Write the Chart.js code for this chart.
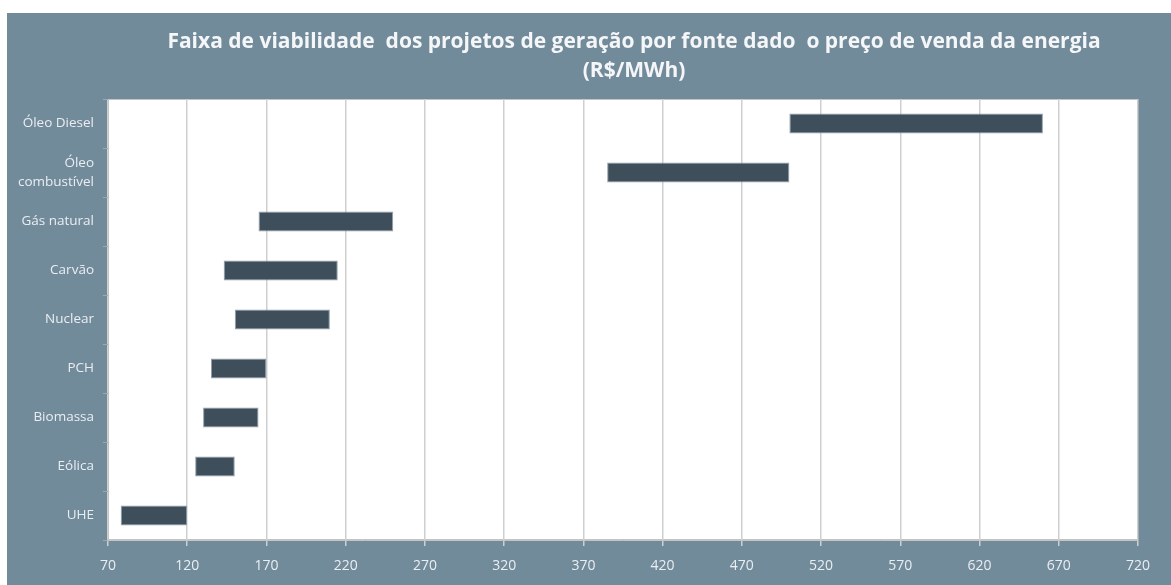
<!DOCTYPE html>
<html>
<head>
<meta charset="utf-8">
<script src="https://cdn.jsdelivr.net/npm/chart.js@4/dist/chart.umd.min.js"></script>
<style>
  html, body { margin: 0; padding: 0; background: #ffffff; }
  #wrap {
    position: absolute;
    left: 7px;
    top: 13px;
    width: 1164px;
    height: 572px;
    background: #728b9b;
  }
</style>
</head>
<body>
<div id="wrap"><canvas id="chart-faixa"></canvas></div>
<script>
// fontes de geracao (de cima para baixo)
const categories = [
  "Óleo Diesel",
  ["Óleo", "combustível"],
  "Gás natural",
  "Carvão",
  "Nuclear",
  "PCH",
  "Biomassa",
  "Eólica",
  "UHE",
];
// faixa de preco R$/MWh
const minPrices = [500, 385, 165, 143, 150, 135, 130, 125, 78];
const maxPrices = [660, 500, 250, 215, 210, 170, 165, 150, 120];

const titleLines = [
  "Faixa de viabilidade  dos projetos de geração por fonte dado  o preço de venda da energia",
  "(R$/MWh)",
];

const xMin = 70;
const xMax = 720;
const xStep = 50;

const ranges = minPrices.map((v, i) => [v, maxPrices[i]]);

const labelColor = "#e9eef2";
const gridColor = "#cfcfcf";

// fundo branco da area de plotagem + titulo desenhado a mao
const plotBackground = {
  id: "plotBackground",
  beforeDraw(chart) {
    const { ctx, chartArea } = chart;
    ctx.save();
    ctx.fillStyle = "#ffffff";
    ctx.fillRect(chartArea.left, chartArea.top, chartArea.right - chartArea.left, chartArea.bottom - chartArea.top);
    ctx.strokeStyle = "#c4c4c4";
    ctx.lineWidth = 1;
    ctx.strokeRect(chartArea.left + 0.5, chartArea.top + 0.5, chartArea.right - chartArea.left - 1, chartArea.bottom - chartArea.top - 1);
    ctx.restore();
  },
  afterDraw(chart) {
    const ctx = chart.ctx;
    ctx.save();
    ctx.fillStyle = "#f4f6f8";
    ctx.font = "bold 21px 'Open Sans'";
    ctx.textAlign = "center";
    ctx.textBaseline = "middle";
    ctx.fillText(titleLines[0], 627, 29);
    ctx.fillText(titleLines[1], 627, 58);
    ctx.restore();
  },
};

var ctx = document.getElementById("chart-faixa").getContext("2d");

new Chart(ctx, {
  type: "bar",
  plugins: [plotBackground],
  data: {
    labels: categories,
    datasets: [
      {
        label: "Faixa",
        data: ranges,
        backgroundColor: "#3e4f5b",
        borderColor: "#8fa0ac",
        borderWidth: 1,
        borderSkipped: false,
        barPercentage: 0.41,
        categoryPercentage: 1,
      },
    ],
  },
  options: {
    indexAxis: "y",
    responsive: true,
    maintainAspectRatio: false,
    animation: false,
    layout: {
      padding: { top: 86, right: 33, left: 0, bottom: 0 },
    },
    plugins: {
      legend: { display: false },
      tooltip: { enabled: false },
      title: { display: false },
    },
    scales: {
      x: {
        min: xMin,
        max: xMax,
        afterFit(scale) {
          scale.height = 45;
        },
        grid: {
          color: gridColor,
          lineWidth: 1.5,
          drawTicks: true,
          tickLength: 6,
        },
        border: { display: true, color: "#c4c4c4", width: 1 },
        ticks: {
          stepSize: xStep,
          padding: 12,
          color: labelColor,
          font: { size: 14, family: "Open Sans" },
          maxRotation: 0,
        },
      },
      y: {
        afterFit(scale) {
          scale.width = 101;
        },
        grid: {
          offset: true,
          drawOnChartArea: false,
          drawTicks: true,
          tickLength: 5,
          color: "#9aaab5",
        },
        border: { display: true, color: "#c4c4c4", width: 1 },
        ticks: {
          padding: 9,
          color: labelColor,
          font: { size: 13.5, family: "Open Sans", lineHeight: 1.45 },
        },
      },
    },
  },
});
</script>
</body>
</html>
